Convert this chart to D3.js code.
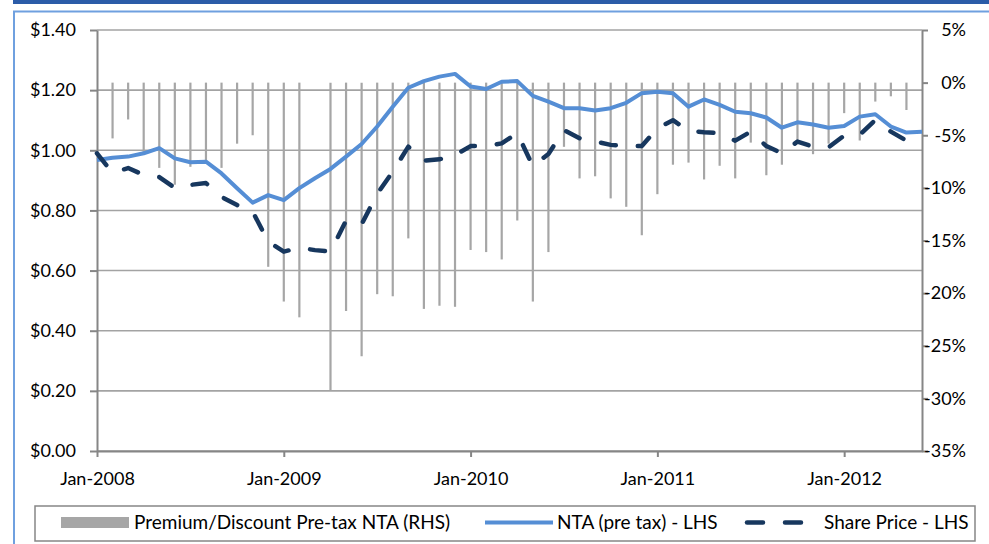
<!DOCTYPE html>
<html>
<head>
	<meta charset="utf-8" />
	<title>NTA and share price</title>
	<script src="https://cdn.jsdelivr.net/npm/d3@7"></script>
	<style>
	body { margin: 0; background: #fff; }
	text { font-family: Lato, "Open Sans", sans-serif; fill: #000; }
	</style>
</head>
<body>
<div id="chart"></div>
<script>

// months Jan-2008 .. Jun-2012
const months = [
	"2008-01","2008-02","2008-03","2008-04","2008-05","2008-06","2008-07","2008-08","2008-09","2008-10","2008-11","2008-12",
	"2009-01","2009-02","2009-03","2009-04","2009-05","2009-06","2009-07","2009-08","2009-09","2009-10","2009-11","2009-12",
	"2010-01","2010-02","2010-03","2010-04","2010-05","2010-06","2010-07","2010-08","2010-09","2010-10","2010-11","2010-12",
	"2011-01","2011-02","2011-03","2011-04","2011-05","2011-06","2011-07","2011-08","2011-09","2011-10","2011-11","2011-12",
	"2012-01","2012-02","2012-03","2012-04","2012-05","2012-06"
];

// premium / discount to pre-tax NTA, % (RHS)
const premium = [
	null, -5.3, -3.5, -6.6, -8.1, -9.7, -8.0, -7.5, -8.1, -5.8, -5.0, -17.5,
	-20.8, -22.3, null, -29.2, -21.7, -26.0, -20.1, -20.3, -14.8, -21.5, -21.2, -21.3,
	-15.9, -16.1, -16.8, -13.1, -20.8, -16.1, -6.1, -9.1, -8.9, -11.0, -11.8, -14.5,
	-10.6, -7.8, -7.6, -9.2, -7.9, -9.1, -5.7, -8.8, -7.8, -5.5, -6.8, -5.8,
	-2.9, -5.5, -1.8, -1.3, -2.6, null
];

// NTA (pre tax), $ (LHS)
const nta = [
	0.968, 0.975, 0.979, 0.990, 1.007, 0.973, 0.960, 0.962, 0.923, 0.874, 0.826, 0.851,
	0.834, 0.874, 0.907, 0.938, 0.979, 1.021, 1.079, 1.145, 1.208, 1.230, 1.245, 1.254,
	1.212, 1.204, 1.228, 1.230, 1.181, 1.162, 1.140, 1.140, 1.132, 1.140, 1.158, 1.190,
	1.195, 1.190, 1.145, 1.169, 1.151, 1.128, 1.123, 1.109, 1.075, 1.093, 1.086, 1.075,
	1.081, 1.112, 1.120, 1.079, 1.059, 1.062
];

// share price, $ (LHS)
const sharePrice = [
	0.990, 0.925, 0.941, 0.918, 0.911, 0.875, 0.885, 0.891, 0.845, 0.818, 0.796, 0.696,
	0.663, 0.676, 0.668, 0.663, 0.766, 0.754, 0.855, 0.929, 1.012, 0.965, 0.970, 0.984,
	1.014, 1.014, 1.023, 1.057, 0.947, 0.988, 1.067, 1.040, 1.029, 1.018, 1.014, 1.014,
	1.073, 1.100, 1.065, 1.060, 1.057, 1.032, 1.062, 1.014, 0.990, 1.029, 1.012, 1.010,
	1.049, 1.051, 1.101, 1.062, 1.032, 1.040
];

const leftTicks = [0, 0.2, 0.4, 0.6, 0.8, 1.0, 1.2, 1.4];
const rightTicks = [-35, -30, -25, -20, -15, -10, -5, 0, 5];
const xTicks = ["2008-01", "2009-01", "2010-01", "2011-01", "2012-01"];
const legendLabels = ["Premium/Discount Pre-tax NTA (RHS)", "NTA (pre tax) - LHS", "Share Price - LHS"];

let width = 989, height = 544;
const plot = {left: 97, right: 922, top: 30, bottom: 451};

const barColor = "#a6a6a6";
const ntaColor = "#558ed5";
const priceColor = "#17375e";
const gridColor = "#a3a3a3";
const axisColor = "#868686";

let svg = d3.select("#chart")
	.append("svg")
	.attr("width", width)
	.attr("height", height);

// page frame
svg.append("rect")
	.attr("x", 13).attr("y", 0)
	.attr("width", width - 13).attr("height", 4)
	.attr("fill", "#2b5ca8");
svg.append("rect")
	.attr("x", 14).attr("y", 11.5)
	.attr("width", width + 20).attr("height", height + 20)
	.attr("fill", "none")
	.attr("stroke", "#6fa0df")
	.attr("stroke-width", 2);

let x = d3.scalePoint()
	.domain(months)
	.range([plot.left, plot.right]);

let yLeft = d3.scaleLinear()
	.domain([0, 1.4])
	.range([plot.bottom, plot.top]);

let yRight = d3.scaleLinear()
	.domain([-35, 5])
	.range([plot.bottom, plot.top]);

// horizontal grid
svg.append("g")
	.attr("class", "grid")
	.selectAll("line")
	.data(leftTicks)
	.enter().append("line")
	.attr("x1", plot.left)
	.attr("x2", plot.right)
	.attr("y1", d => yLeft(d))
	.attr("y2", d => yLeft(d))
	.attr("stroke", gridColor)
	.attr("stroke-width", 1.6);

// premium/discount bars, hanging from 0%
svg.append("g")
	.attr("class", "bars")
	.selectAll("line")
	.data(months.map((m, i) => ({m: m, v: premium[i]})).filter(d => d.v != null))
	.enter().append("line")
	.attr("x1", d => x(d.m))
	.attr("x2", d => x(d.m))
	.attr("y1", yRight(0))
	.attr("y2", d => yRight(d.v))
	.attr("stroke", barColor)
	.attr("stroke-width", 2.2);

// axes
let leftAxis = svg.append("g")
	.attr("transform", "translate(" + plot.left + ",0)")
	.call(d3.axisLeft(yLeft)
		.tickValues(leftTicks)
		.tickFormat(d => "$" + d.toFixed(2))
		.tickSize(7)
		.tickPadding(14)
		.tickSizeOuter(0));

let rightAxis = svg.append("g")
	.attr("transform", "translate(" + plot.right + ",0)")
	.call(d3.axisRight(yRight)
		.tickValues(rightTicks)
		.tickFormat(d => d + "%")
		.tickSize(6)
		.tickSizeOuter(0));
rightAxis.selectAll("text")
	.attr("text-anchor", "end")
	.attr("x", 44);

let bottomAxis = svg.append("g")
	.attr("transform", "translate(0," + plot.bottom + ")")
	.call(d3.axisBottom(x)
		.tickValues(xTicks)
		.tickFormat(d => "Jan-" + d.slice(0, 4))
		.tickSize(6)
		.tickSizeOuter(0));
bottomAxis.selectAll("text")
	.attr("y", 21)
	.attr("dy", "0.71em");

[leftAxis, rightAxis, bottomAxis].forEach(a => {
	a.select(".domain").attr("stroke", axisColor).attr("stroke-width", 2);
	a.selectAll(".tick line").attr("stroke", axisColor).attr("stroke-width", 2);
	a.selectAll("text")
		.style("font-family", "Lato, 'Open Sans', sans-serif")
		.style("font-size", "18px")
		.attr("fill", "#000");
});

// lines
let ntaLine = d3.line()
	.x((d, i) => x(months[i]))
	.y(d => yLeft(d));

svg.append("path")
	.datum(nta)
	.attr("d", ntaLine)
	.attr("fill", "none")
	.attr("stroke", ntaColor)
	.attr("stroke-width", 4)
	.attr("stroke-linejoin", "round");

svg.append("path")
	.datum(sharePrice)
	.attr("d", ntaLine)
	.attr("fill", "none")
	.attr("stroke", priceColor)
	.attr("stroke-width", 4.5)
	.attr("stroke-linecap", "round")
	.attr("stroke-linejoin", "round")
	.attr("stroke-dasharray", "15,22");

// legend
let legend = svg.append("g").attr("class", "legend");
legend.append("rect")
	.attr("x", 35).attr("y", 506)
	.attr("width", 940).attr("height", 35)
	.attr("fill", "#fff")
	.attr("stroke", axisColor)
	.attr("stroke-width", 1.5);

legend.append("rect")
	.attr("x", 61).attr("y", 517)
	.attr("width", 68).attr("height", 11)
	.attr("fill", barColor);
legend.append("line")
	.attr("x1", 485).attr("x2", 553)
	.attr("y1", 522.5).attr("y2", 522.5)
	.attr("stroke", ntaColor)
	.attr("stroke-width", 4);
legend.append("line")
	.attr("x1", 747).attr("x2", 820)
	.attr("y1", 522.5).attr("y2", 522.5)
	.attr("stroke", priceColor)
	.attr("stroke-width", 4.5)
	.attr("stroke-linecap", "round")
	.attr("stroke-dasharray", "16,22");

legend.selectAll("text.lbl")
	.data(legendLabels)
	.enter().append("text")
	.attr("class", "lbl")
	.attr("x", (d, i) => [134, 557, 824][i])
	.attr("y", 529)
	.style("font-size", "19px")
	.text(d => d);

</script>
</body>
</html>
